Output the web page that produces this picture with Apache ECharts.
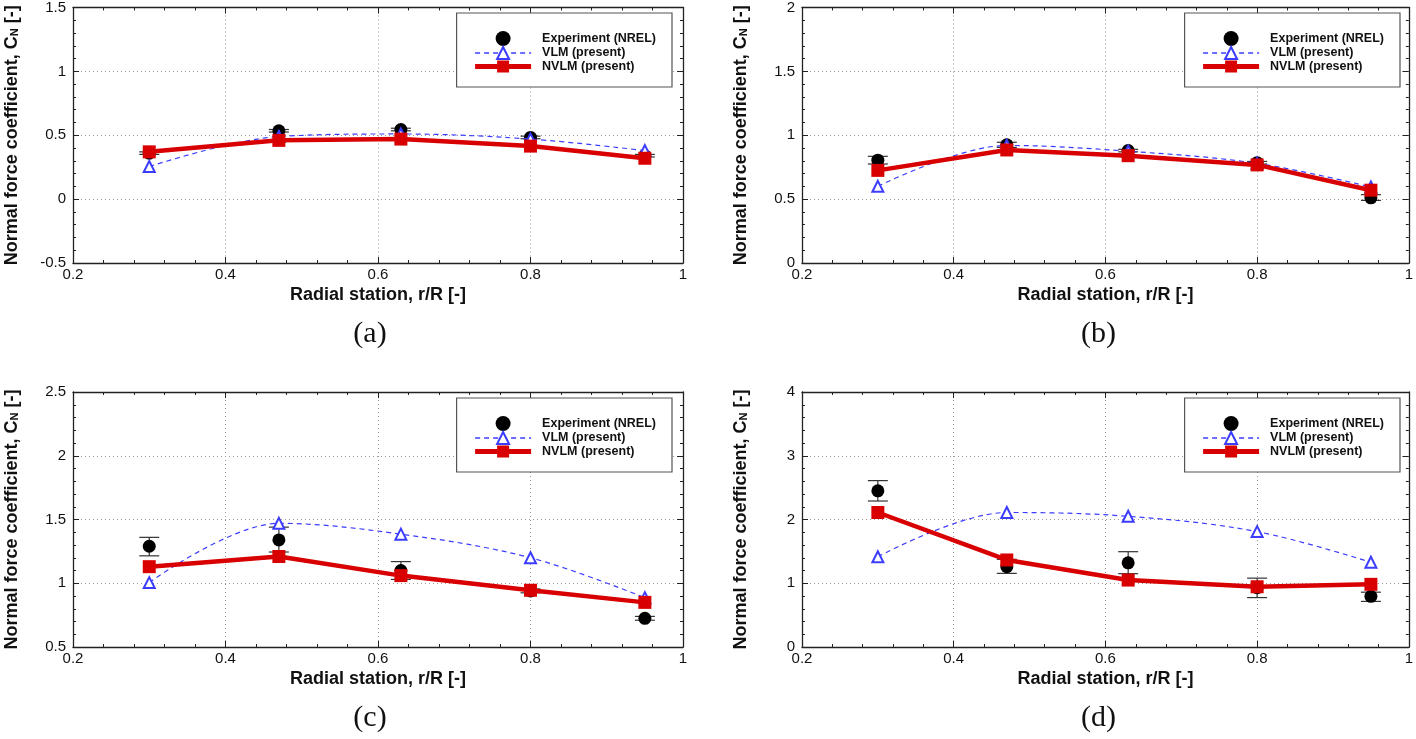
<!DOCTYPE html>
<html>
<head>
<meta charset="utf-8">
<script src="https://cdn.jsdelivr.net/npm/echarts@6/dist/echarts.min.js"></script>
<style>
  html, body { margin: 0; padding: 0; background: #fff; }
  #main { width: 1416px; height: 739px; }
</style>
</head>
<body>
<div id="main"></div>
<script>
// radial stations r/R
var rStations = [0.3, 0.47, 0.63, 0.8, 0.95];

// (a)
var expA = [0.36, 0.535, 0.545, 0.483, 0.34];
var expALow = [0.35, 0.525, 0.535, 0.473, 0.33];
var expAHigh = [0.37, 0.545, 0.555, 0.493, 0.35];
var vlmA = [0.255, 0.49, 0.51, 0.47, 0.38];
var nvlmA = [0.37, 0.46, 0.47, 0.415, 0.32];

// (b)
var expB = [0.805, 0.925, 0.88, 0.785, 0.51];
var expBLow = [0.775, 0.905, 0.87, 0.775, 0.49];
var expBHigh = [0.835, 0.945, 0.89, 0.795, 0.535];
var vlmB = [0.6, 0.92, 0.875, 0.78, 0.595];
var nvlmB = [0.725, 0.885, 0.84, 0.768, 0.57];

// (c)
var expC = [1.29, 1.34, 1.1, 0.94, 0.725];
var expCLow = [1.215, 1.245, 1.03, 0.925, 0.71];
var expCHigh = [1.36, 1.44, 1.17, 0.955, 0.74];
var vlmC = [1.005, 1.47, 1.385, 1.2, 0.887];
var nvlmC = [1.13, 1.21, 1.06, 0.945, 0.85];

// (d)
var expD = [2.45, 1.26, 1.32, 0.93, 0.795];
var expDLow = [2.29, 1.155, 1.15, 0.775, 0.715];
var expDHigh = [2.61, 1.375, 1.495, 1.08, 0.86];
var vlmD = [1.415, 2.11, 2.05, 1.81, 1.33];
var nvlmD = [2.11, 1.365, 1.05, 0.945, 0.983];

var names = ['Experiment (NREL)', 'VLM (present)', 'NVLM (present)'];
var sans = "'Liberation Sans', Arial, sans-serif";
var red = '#d80000', blue = '#3c3cff';

var myChart = echarts.init(document.getElementById('main'));

var grids = [
  {left: 73, top: 7, width: 610, height: 256},
  {left: 802, top: 7, width: 609, height: 256},
  {left: 73, top: 392, width: 610, height: 255},
  {left: 802, top: 392, width: 609, height: 255}
];
var yRanges = [[-0.5, 1.5, 0.5], [0, 2, 0.5], [0.5, 2.5, 0.5], [0, 4, 1]];

var frame = {show: true, onZero: false, lineStyle: {color: '#222', width: 1.3}};
var tick = {inside: true, length: 6, lineStyle: {color: '#222'}};
var minor = {show: true, splitNumber: 5, length: 3, lineStyle: {color: '#222'}};
var dots = {show: true, lineStyle: {color: '#999', type: [1, 3]}};
var xAxes = [], yAxes = [];
grids.forEach(function (g, i) {
  xAxes.push({
    type: 'value', gridIndex: i, min: 0.2, max: 1, interval: 0.2,
    axisLine: frame, axisTick: tick, minorTick: minor, splitLine: dots,
    axisLabel: {fontFamily: sans, fontSize: 15, color: '#111', margin: 4},
    name: 'Radial station, r/R [-]', nameLocation: 'middle', nameGap: 23,
    nameTextStyle: {fontFamily: sans, fontSize: 18, fontWeight: 'bold', color: '#111'}
  });
  xAxes.push({
    type: 'value', gridIndex: i, position: 'top', min: 0.2, max: 1, interval: 0.2,
    axisLine: frame, axisTick: tick, minorTick: minor,
    splitLine: {show: false}, axisLabel: {show: false}
  });
  var yr = yRanges[i];
  yAxes.push({
    type: 'value', gridIndex: i, min: yr[0], max: yr[1], interval: yr[2],
    axisLine: frame, axisTick: tick, minorTick: minor, splitLine: dots,
    axisLabel: {fontFamily: sans, fontSize: 15, color: '#111', margin: 7},
    name: '{a|Normal force coefficient, C}{s|N}{a| [-]}',
    nameLocation: 'middle', nameGap: 52,
    nameTextStyle: {
      rich: {
        a: {fontFamily: sans, fontSize: 18, fontWeight: 'bold', color: '#111'},
        s: {fontFamily: sans, fontSize: 11, fontWeight: 'bold', color: '#111', padding: [6, 0, 0, 0]}
      }
    }
  });
  yAxes.push({
    type: 'value', gridIndex: i, position: 'right', min: yr[0], max: yr[1], interval: yr[2],
    axisLine: frame, axisTick: tick, minorTick: minor,
    splitLine: {show: false}, axisLabel: {show: false}
  });
});

function pairs(vals) {
  return rStations.map(function (r, k) { return [r, vals[k]]; });
}
function bars(lo, hi) {
  return rStations.map(function (r, k) { return [r, lo[k], hi[k]]; });
}

function errItem(params, api) {
  var x = api.value(0);
  var pLo = api.coord([x, api.value(1)]);
  var pHi = api.coord([x, api.value(2)]);
  var w = 10;
  var st = {stroke: '#333', lineWidth: 1.2};
  return {
    type: 'group',
    children: [
      {type: 'line', shape: {x1: pLo[0], y1: pLo[1], x2: pHi[0], y2: pHi[1]}, style: st},
      {type: 'line', shape: {x1: pLo[0] - w, y1: pLo[1], x2: pLo[0] + w, y2: pLo[1]}, style: st},
      {type: 'line', shape: {x1: pHi[0] - w, y1: pHi[1], x2: pHi[0] + w, y2: pHi[1]}, style: st}
    ]
  };
}

var panels = [
  [expA, expALow, expAHigh, vlmA, nvlmA],
  [expB, expBLow, expBHigh, vlmB, nvlmB],
  [expC, expCLow, expCHigh, vlmC, nvlmC],
  [expD, expDLow, expDHigh, vlmD, nvlmD]
];

var series = [];
panels.forEach(function (p, i) {
  var ax = {xAxisIndex: i * 2, yAxisIndex: i * 2};
  series.push(Object.assign({
    name: 'err', type: 'custom', renderItem: errItem, z: 2,
    encode: {x: 0, y: [1, 2]}, data: bars(p[1], p[2])
  }, ax));
  series.push(Object.assign({
    name: names[0], type: 'scatter', symbol: 'circle', symbolSize: 13, z: 3,
    itemStyle: {color: '#000', opacity: 1}, data: pairs(p[0])
  }, ax));
  series.push(Object.assign({
    name: names[1], type: 'line', smooth: 0.35, symbol: 'emptyTriangle', symbolSize: 11, z: 4,
    itemStyle: {color: blue, borderWidth: 1},
    lineStyle: {color: blue, width: 1.2, type: [5, 4]},
    data: pairs(p[3])
  }, ax));
  series.push(Object.assign({
    name: names[2], type: 'line', symbol: 'rect', symbolSize: 13, z: 5,
    itemStyle: {color: red},
    lineStyle: {color: red, width: 4.5},
    data: pairs(p[4])
  }, ax));
});

var legendItems = [
  {name: names[0], itemStyle: {color: '#000', opacity: 1}},
  {name: names[1], lineStyle: {color: blue, width: 1.5, type: [5, 4]}},
  {name: names[2], lineStyle: {color: red, width: 5}}
];

var legends = grids.map(function (g) {
  return {
    right: 1416 - (g.left + g.width) + 11, top: g.top + 6,
    orient: 'vertical', selectedMode: false,
    itemWidth: 56, itemHeight: 15, itemGap: 0,
    padding: [18, 16, 14, 16],
    borderColor: '#555', borderWidth: 1.2, backgroundColor: '#fff',
    textStyle: {fontFamily: sans, fontSize: 12.5, fontWeight: 'bold', color: '#111', padding: [0, 0, 0, 6]},
    data: legendItems
  };
});

var tags = ['(a)', '(b)', '(c)', '(d)'];
var graphics = grids.map(function (g, i) {
  return {
    type: 'text', x: g.left + g.width / 2 - 8, y: g.top + g.height + 71,
    style: {text: tags[i], font: "30px 'Liberation Serif', 'Times New Roman', serif",
      fill: '#111', align: 'center', verticalAlign: 'middle'}
  };
});

option = {
  backgroundColor: '#fff',
  animation: false,
  grid: grids,
  xAxis: xAxes,
  yAxis: yAxes,
  legend: legends,
  series: series,
  graphic: graphics
};
myChart.setOption(option);
</script>
</body>
</html>
